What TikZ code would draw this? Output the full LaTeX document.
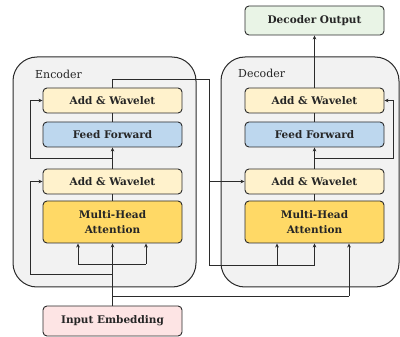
\documentclass[tikz,border=0pt]{standalone}
\usepackage{fontspec}
\setmainfont{DejaVu Serif}
\usetikzlibrary{arrows.meta}
\definecolor{awfill}{HTML}{FFF2CC}
\definecolor{fffill}{HTML}{BDD7EE}
\definecolor{mhafill}{HTML}{FFD966}
\definecolor{inpfill}{HTML}{FDE4E4}
\definecolor{outfill}{HTML}{E9F4E6}
\definecolor{contfill}{HTML}{F2F2F2}
\definecolor{edge}{HTML}{2B2B2B}
\tikzset{
  box/.style={draw=edge, line width=0.9pt, rounded corners=4pt, minimum width=139pt, minimum height=25pt, inner sep=0pt, align=center, font=\bfseries\fontsize{10.5}{15}\selectfont, text=black!85},
  container/.style={draw=edge, line width=1pt, fill=contfill, rounded corners=24pt, inner sep=0pt},
  ctitle/.style={anchor=west, font=\fontsize{11}{13}\selectfont, text=black!85, inner sep=0pt},
  conn/.style={draw=edge, line width=0.9pt},
  arr/.style={conn, -{Stealth[length=4pt,width=3.6pt]}},
}
\begin{document}
\begin{tikzpicture}[x=1pt,y=-1pt]
\useasboundingbox (0,0) rectangle (400,337);
% containers
\node[container, minimum width=183pt, minimum height=230pt] (enc) at (104.5,172) {};
\node[container, minimum width=178pt, minimum height=230pt] (dec) at (310,172) {};
\node[ctitle] (enct) at (35,74) {Encoder};
\node[ctitle] (dect) at (238,73) {Decoder};
% encoder nodes
\node[box, fill=awfill] (eaw2) at (112.5,100.5) {Add \& Wavelet};
\node[box, fill=fffill] (eff) at (112.5,134.5) {Feed Forward};
\node[box, fill=awfill] (eaw1) at (112.5,181.5) {Add \& Wavelet};
\node[box, fill=mhafill, minimum height=42pt] (emha) at (112.5,222) {Multi-Head\\Attention};
\node[box, fill=inpfill, minimum height=30pt] (inp) at (112.5,321) {Input Embedding};
% decoder nodes
\node[box, fill=outfill, minimum height=29pt] (out) at (314.5,20.5) {Decoder Output};
\node[box, fill=awfill] (daw2) at (314.5,100.5) {Add \& Wavelet};
\node[box, fill=fffill] (dff) at (314.5,134.5) {Feed Forward};
\node[box, fill=awfill] (daw1) at (314.5,181.5) {Add \& Wavelet};
\node[box, fill=mhafill, minimum height=42pt] (dmha) at (314.5,222) {Multi-Head\\Attention};
% helper coordinates
\coordinate (eb) at (112.5,264);
\coordinate (ebl) at (78,264);
\coordinate (ebr) at (146,264);
\coordinate (er1) at (112.5,274);
\coordinate (er1c) at (30,274);
\coordinate (etod) at (112.5,296);
\coordinate (etodc) at (349,296);
\coordinate (er2) at (112.5,158);
\coordinate (er2c) at (30,158);
\coordinate (eup) at (112.5,79);
\coordinate (x1) at (209,79);
\coordinate (x2) at (209,265);
\coordinate (x3) at (314.5,265);
\coordinate (x4) at (277,265);
\coordinate (x5) at (209,181.5);
\coordinate (dr) at (314.5,158);
\coordinate (drc) at (393,158);
% encoder connectors
\draw[arr] (inp.north) -- (emha.south);
\draw[conn] (ebl) -- (ebr);
\draw[arr] (ebl) -- (ebl |- emha.south);
\draw[arr] (ebr) -- (ebr |- emha.south);
\draw[conn] (er1) -- (er1c) -- (er1c |- eaw1.west);
\draw[arr] (er1c |- eaw1.west) -- (eaw1.west);
\draw[conn] (emha.north) -- (eaw1.south);
\draw[arr] (eaw1.north) -- (eff.south);
\draw[conn] (er2) -- (er2c) -- (er2c |- eaw2.west);
\draw[arr] (er2c |- eaw2.west) -- (eaw2.west);
\draw[conn] (eff.north) -- (eaw2.south);
% encoder to decoder
\draw[conn] (eaw2.north) -- (eup) -- (x1) -- (x2) -- (x3);
\draw[arr] (x3) -- (dmha.south);
\draw[arr] (x4) -- (x4 |- dmha.south);
\draw[arr] (x5) -- (daw1.west);
\draw[conn] (etod) -- (etodc);
\draw[arr] (etodc) -- (etodc |- dmha.south);
% decoder connectors
\draw[conn] (dmha.north) -- (daw1.south);
\draw[arr] (daw1.north) -- (dff.south);
\draw[conn] (dr) -- (drc) -- (drc |- daw2.east);
\draw[arr] (drc |- daw2.east) -- (daw2.east);
\draw[conn] (dff.north) -- (daw2.south);
\draw[arr] (daw2.north) -- (out.south);
\end{tikzpicture}
\end{document}
